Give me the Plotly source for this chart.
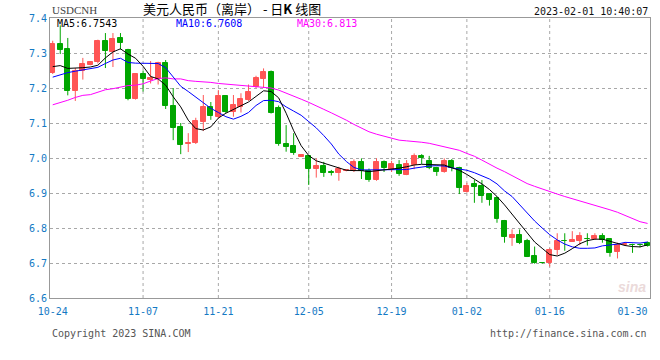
import plotly.graph_objects as go

# ---------------- data ----------------
opens = [7.243, 7.326, 7.311, 7.191, 7.248, 7.267, 7.274, 7.335, 7.302, 7.343,
         7.310, 7.169, 7.240, 7.224, 7.227, 7.271, 7.149, 7.089, 7.039, 7.044,
         7.104, 7.147, 7.118, 7.177, 7.132, 7.147, 7.166, 7.204, 7.226, 7.247,
         7.144, 7.040, 7.034, 7.004, 7.007, 6.969, 6.977, 6.961, 6.956, 6.963,
         6.964, 6.989, 6.963, 6.937, 6.989, 6.966, 6.980, 6.951, 6.980, 7.006,
         6.991, 6.972, 6.961, 6.991, 6.971, 6.904, 6.925, 6.921, 6.896, 6.887,
         6.821, 6.772, 6.780, 6.763, 6.720, 6.701, 6.701, 6.737, 6.764, 6.761,
         6.763, 6.770, 6.768, 6.777, 6.768, 6.732, 6.752, 6.752, 6.752, 6.756]
highs = [7.335, 7.379, 7.343, 7.257, 7.286, 7.276, 7.338, 7.357, 7.357, 7.357,
         7.312, 7.242, 7.250, 7.277, 7.275, 7.280, 7.200, 7.100, 7.071, 7.115,
         7.180, 7.160, 7.194, 7.180, 7.180, 7.185, 7.210, 7.235, 7.256, 7.250,
         7.150, 7.094, 7.071, 7.010, 7.008, 6.999, 6.989, 6.966, 6.975, 6.966,
         6.996, 6.999, 6.970, 6.999, 6.993, 6.992, 6.994, 6.994, 7.013, 7.011,
         7.006, 6.975, 6.999, 6.997, 6.975, 6.929, 6.937, 6.937, 6.900, 6.890,
         6.823, 6.796, 6.796, 6.769, 6.747, 6.702, 6.742, 6.785, 6.785, 6.791,
         6.788, 6.785, 6.785, 6.785, 6.770, 6.758, 6.755, 6.755, 6.755, 6.761]
lows = [7.240, 7.297, 7.179, 7.163, 7.224, 7.265, 7.270, 7.257, 7.260, 7.310,
        7.165, 7.167, 7.190, 7.213, 7.210, 7.140, 7.051, 7.011, 7.017, 7.040,
        7.077, 7.109, 7.113, 7.128, 7.118, 7.130, 7.163, 7.200, 7.200, 7.127,
        7.035, 7.018, 7.009, 7.003, 6.923, 6.944, 6.946, 6.950, 6.935, 6.962,
        6.960, 6.940, 6.932, 6.935, 6.960, 6.960, 6.949, 6.951, 6.968, 6.983,
        6.968, 6.949, 6.958, 6.962, 6.897, 6.901, 6.872, 6.872, 6.864, 6.815,
        6.758, 6.749, 6.754, 6.717, 6.698, 6.698, 6.690, 6.723, 6.735, 6.760,
        6.751, 6.750, 6.766, 6.758, 6.718, 6.713, 6.751, 6.729, 6.745, 6.747]
closes = [7.326, 7.310, 7.191, 7.248, 7.269, 7.274, 7.335, 7.305, 7.341, 7.329,
          7.169, 7.240, 7.227, 7.230, 7.271, 7.149, 7.087, 7.037, 7.044, 7.106,
          7.147, 7.120, 7.177, 7.132, 7.151, 7.169, 7.190, 7.229, 7.247, 7.130,
          7.039, 7.032, 7.013, 7.009, 6.969, 6.977, 6.958, 6.956, 6.969, 6.965,
          6.989, 6.963, 6.937, 6.989, 6.971, 6.983, 6.954, 6.983, 7.006, 6.999,
          6.971, 6.961, 6.991, 6.971, 6.915, 6.920, 6.918, 6.892, 6.880, 6.825,
          6.775, 6.780, 6.758, 6.718, 6.699, 6.699, 6.737, 6.763, 6.762, 6.766,
          6.777, 6.768, 6.777, 6.766, 6.728, 6.751, 6.753, 6.751, 6.751, 6.749]

ma5 = [7.261, 7.264, 7.256, 7.256, 7.258, 7.260, 7.265, 7.286, 7.303, 7.312,
       7.297, 7.285, 7.262, 7.233, 7.226, 7.208, 7.175, 7.146, 7.108, 7.084,
       7.080, 7.089, 7.114, 7.128, 7.138, 7.150, 7.160, 7.176, 7.192, 7.190,
       7.172, 7.128, 7.078, 7.035, 7.007, 6.992, 6.985, 6.977, 6.970, 6.965,
       6.964, 6.964, 6.961, 6.963, 6.966, 6.968, 6.971, 6.975, 6.980, 6.982,
       6.982, 6.982, 6.980, 6.972, 6.965, 6.953, 6.940, 6.926, 6.910, 6.890,
       6.866, 6.840, 6.812, 6.785, 6.760, 6.742, 6.724, 6.720, 6.728, 6.741,
       6.755, 6.764, 6.768, 6.768, 6.762, 6.754, 6.750, 6.747, 6.746, 6.752]
ma10 = [7.231, 7.238, 7.244, 7.248, 7.251, 7.254, 7.259, 7.270, 7.280, 7.285,
        7.273, 7.271, 7.271, 7.271, 7.270, 7.258, 7.232, 7.205, 7.190, 7.174,
        7.157, 7.142, 7.130, 7.118, 7.111, 7.119, 7.130, 7.150, 7.164, 7.165,
        7.161, 7.146, 7.134, 7.122, 7.104, 7.086, 7.064, 7.040, 7.011, 6.990,
        6.973, 6.966, 6.966, 6.966, 6.966, 6.966, 6.966, 6.967, 6.971, 6.975,
        6.977, 6.978, 6.977, 6.972, 6.968, 6.965, 6.958, 6.950, 6.940, 6.926,
        6.906, 6.890, 6.866, 6.845, 6.820, 6.800, 6.781, 6.766, 6.754, 6.746,
        6.742, 6.742, 6.743, 6.749, 6.751, 6.754, 6.759, 6.757, 6.757, 6.760]
ma30 = [7.152, 7.158, 7.165, 7.173, 7.179, 7.181, 7.188, 7.195, 7.198, 7.203,
        7.207, 7.208, 7.212, 7.220, 7.227, 7.229, 7.226, 7.226, 7.221, 7.219,
        7.218, 7.216, 7.213, 7.211, 7.209, 7.207, 7.205, 7.203, 7.202, 7.200,
        7.194, 7.186, 7.176, 7.168, 7.159, 7.148, 7.139, 7.129, 7.119, 7.108,
        7.096, 7.086, 7.075, 7.068, 7.062, 7.057, 7.051, 7.049, 7.048, 7.045,
        7.042, 7.037, 7.033, 7.028, 7.022, 7.013, 7.005, 6.994, 6.982, 6.971,
        6.961, 6.949, 6.938, 6.927, 6.919, 6.911, 6.905, 6.897, 6.890, 6.884,
        6.878, 6.872, 6.865, 6.859, 6.852, 6.845, 6.836, 6.826, 6.818, 6.813]

tick_index = [0, 12, 22, 34, 45, 55, 66, 77]
tick_labels = ["10-24", "11-07", "11-21", "12-05", "12-19", "01-02", "01-16", "01-30"]
grid_index = [12, 22, 34, 45, 55, 66]

RED = "#FF5555"
GREEN = "#00A600"
BLUE_TXT = "#1479C4"
MONO = "DejaVu Sans Mono"

n = len(opens)
idx = list(range(n))

fig = go.Figure()

# wicks
for up, col in ((True, RED), (False, GREEN)):
    wx, wy = [], []
    for i in idx:
        if (closes[i] >= opens[i]) == up:
            wx += [i, i, None]
            wy += [lows[i], highs[i], None]
    fig.add_trace(go.Scatter(x=wx, y=wy, mode="lines", line=dict(color=col, width=1),
                             hoverinfo="skip", showlegend=False))

# bodies
for up, col in ((True, RED), (False, GREEN)):
    bx, bb, bh = [], [], []
    for i in idx:
        if (closes[i] >= opens[i]) == up:
            bx.append(i)
            bb.append(min(opens[i], closes[i]))
            bh.append(abs(closes[i] - opens[i]))
    fig.add_trace(go.Bar(x=bx, y=bh, base=bb, width=0.66,
                         marker=dict(color=col, line=dict(color=col, width=1)),
                         showlegend=False))

# moving averages
fig.add_trace(go.Scatter(x=idx, y=ma30, mode="lines", line=dict(color="#FF00FF", width=1), showlegend=False))
fig.add_trace(go.Scatter(x=idx, y=ma10, mode="lines", line=dict(color="#0000FF", width=1), showlegend=False))
fig.add_trace(go.Scatter(x=idx, y=ma5, mode="lines", line=dict(color="#000000", width=1), showlegend=False))

shapes = [dict(type="line", xref="x", yref="paper", x0=g, x1=g, y0=0, y1=1,
               line=dict(color="#A8A8A8", width=1, dash="dot"), layer="below")
          for g in grid_index]

ann = [
    dict(text="USDCNH", x=0, y=1.03, xref="paper", yref="paper", xanchor="left", yanchor="middle",
         showarrow=False, font=dict(family="Liberation Serif", size=11, color="#444")),
    dict(text="美元人民币（离岸） - 日<b>K</b> 线图", x=0.303, y=1.035, xref="paper", yref="paper",
         xanchor="center", yanchor="middle", showarrow=False,
         font=dict(family="Noto Sans CJK SC", size=13, color="#000")),
    dict(text="2023-02-01 10:40:07", x=1.0, y=1.025, xref="paper", yref="paper", xanchor="right",
         yanchor="middle", showarrow=False, font=dict(family=MONO, size=10, color="#111")),
    dict(text="MA5:6.7543", x=0.008, y=0.98, xref="paper", yref="paper", xanchor="left",
         yanchor="middle", showarrow=False, font=dict(family=MONO, size=10, color="#000")),
    dict(text="MA10:6.7608", x=0.207, y=0.98, xref="paper", yref="paper", xanchor="left",
         yanchor="middle", showarrow=False, font=dict(family=MONO, size=10, color="#0000FF")),
    dict(text="MA30:6.813", x=0.408, y=0.98, xref="paper", yref="paper", xanchor="left",
         yanchor="middle", showarrow=False, font=dict(family=MONO, size=10, color="#FF00FF")),
    dict(text="Copyright 2023 SINA.COM", x=0.0, y=-0.125, xref="paper", yref="paper", xanchor="left",
         yanchor="middle", showarrow=False, font=dict(family=MONO, size=10, color="#555")),
    dict(text="http://finance.sina.com.cn", x=0.998, y=-0.125, xref="paper", yref="paper",
         xanchor="right", yanchor="middle", showarrow=False, font=dict(family=MONO, size=10, color="#555")),
    dict(text="<b><i>sina</i></b>", x=0.997, y=0.005, xref="paper", yref="paper", xanchor="right",
         yanchor="bottom", showarrow=False, font=dict(family="Liberation Sans", size=14, color="#EBDADA")),
]

fig.update_layout(
    width=660, height=360,
    margin=dict(l=50, r=10, t=18, b=62),
    paper_bgcolor="white", plot_bgcolor="white",
    barmode="overlay", bargap=0,
    shapes=shapes, annotations=ann,
    hovermode=False,
    xaxis=dict(range=[-0.36, 79.32], tickmode="array", tickvals=tick_index, ticktext=tick_labels,
               showgrid=False, zeroline=False, showline=True, mirror=True, linecolor="#999999",
               linewidth=1, ticks="", ticklabelstandoff=4,
               tickfont=dict(family=MONO, size=10, color=BLUE_TXT)),
    yaxis=dict(range=[6.6, 7.4], dtick=0.1, tick0=6.6, tickformat=".1f",
               showgrid=True, gridcolor="#A8A8A8", griddash="dot", gridwidth=1,
               zeroline=False, showline=True, mirror=True, linecolor="#999999", linewidth=1,
               ticks="", tickfont=dict(family=MONO, size=10, color=BLUE_TXT)),
)

fig.write_html("out.html", config={"displayModeBar": False},
               post_script="document.body.style.margin='0';document.body.style.padding='0';")
